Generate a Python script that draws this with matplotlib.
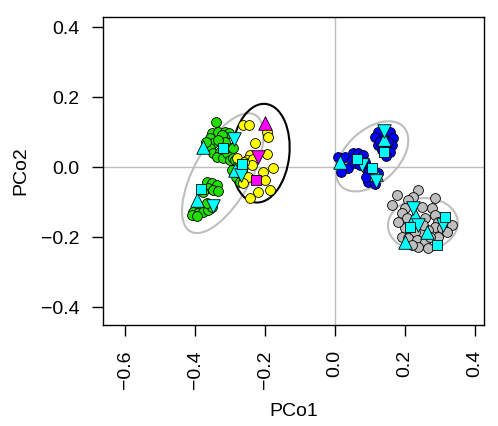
import matplotlib
matplotlib.use("Agg")
import matplotlib.pyplot as plt
from matplotlib.patches import Ellipse

plt.rcParams['font.family'] = ['Liberation Sans', 'DejaVu Sans']
plt.rcParams['font.size'] = 14

# site scores (PCo1, PCo2) by group
green_x = [-0.340, -0.351, -0.334, -0.314, -0.303, -0.323, -0.357, -0.349, -0.357, -0.349,
           -0.329, -0.337, -0.320, -0.309, -0.306, -0.314, -0.291, -0.300, -0.291, -0.334,
           -0.369, -0.286, -0.277, -0.294, -0.283, -0.271, -0.260, -0.266,
           -0.366, -0.351, -0.337, -0.363, -0.349, -0.377, -0.334, -0.391, -0.377, -0.406,
           -0.391, -0.377, -0.363, -0.351, -0.409, -0.394, -0.366]
green_y = [0.129, 0.097, 0.100, 0.100, 0.097, 0.091, 0.083, 0.069, 0.054, 0.040,
           0.043, 0.029, 0.026, 0.040, 0.057, 0.071, 0.054, 0.020, 0.026, 0.077,
           0.071, 0.020, 0.006, -0.009, -0.029, -0.043, -0.031, -0.009,
           -0.043, -0.046, -0.051, -0.060, -0.066, -0.071, -0.069, -0.109, -0.117, -0.129,
           -0.131, -0.129, -0.123, -0.114, -0.137, -0.140, -0.103]

yellow_x = [-0.263, -0.246, -0.194, -0.191, -0.229, -0.243, -0.251, -0.234, -0.194, -0.237,
            -0.280, -0.206, -0.177, -0.249, -0.263, -0.200, -0.186, -0.220, -0.243, -0.277, -0.260]
yellow_y = [0.120, 0.120, 0.100, 0.086, 0.069, 0.034, 0.020, 0.023, 0.037, 0.006,
            0.026, -0.014, -0.003, -0.029, -0.046, -0.037, -0.066, -0.071, -0.089, -0.014, 0.014]

blue_x = [0.123, 0.157, 0.114, 0.166, 0.123, 0.163, 0.134, 0.157, 0.146, 0.129, 0.151,
          0.009, 0.029, 0.023, 0.037, 0.017, 0.051, 0.066, 0.080, 0.049, 0.057, 0.086, 0.071,
          0.094, 0.106, 0.094, 0.114, 0.123, 0.089]
blue_y = [0.100, 0.100, 0.086, 0.083, 0.063, 0.063, 0.049, 0.043, 0.031, 0.074, 0.071,
          0.029, 0.029, -0.003, -0.003, -0.014, 0.040, 0.040, 0.034, 0.020, 0.011, 0.014, 0.006,
          -0.014, -0.031, -0.043, -0.049, -0.017, -0.029]

grey_x = [0.237, 0.223, 0.209, 0.286, 0.277, 0.249, 0.200, 0.191, 0.206, 0.257,
          0.286, 0.294, 0.314, 0.334, 0.286, 0.266, 0.249, 0.229, 0.200, 0.191,
          0.209, 0.234, 0.257, 0.237, 0.266, 0.220, 0.306, 0.320, 0.294, 0.271,
          0.251, 0.177, 0.163, 0.180]
grey_y = [-0.066, -0.086, -0.094, -0.089, -0.117, -0.114, -0.117, -0.131, -0.146, -0.146,
          -0.137, -0.157, -0.160, -0.166, -0.171, -0.180, -0.186, -0.186, -0.174, -0.200,
          -0.203, -0.209, -0.214, -0.229, -0.231, -0.223, -0.174, -0.186, -0.200, -0.200,
          -0.166, -0.080, -0.109, -0.157]

# overlay symbols
cyan_up_x = [-0.377, -0.286, -0.394, 0.140, 0.014, 0.117, 0.229, 0.263, 0.200]
cyan_up_y = [0.057, -0.009, -0.094, 0.080, 0.014, -0.020, -0.137, -0.186, -0.214]
cyan_dn_x = [-0.289, -0.269, -0.349, 0.140, 0.077, 0.117, 0.223, 0.237, 0.309]
cyan_dn_y = [0.080, -0.023, -0.111, 0.103, 0.006, -0.040, -0.117, -0.166, -0.166]
cyan_sq_x = [-0.320, -0.266, -0.383, 0.140, 0.063, 0.106, 0.214, 0.314, 0.291]
cyan_sq_y = [0.054, 0.009, -0.063, 0.043, 0.023, -0.003, -0.171, -0.143, -0.223]

mag_up = (-0.200, 0.126)
mag_dn = (-0.220, 0.029)
mag_sq = (-0.226, -0.037)

# group ellipses: centre x, centre y, width, height, angle, colour
ell_cx = [-0.321, -0.213, 0.106, 0.251]
ell_cy = [-0.017, 0.040, 0.031, -0.163]
ell_w = [0.381, 0.283, 0.246, 0.200]
ell_h = [0.162, 0.165, 0.150, 0.149]
ell_ang = [61, 84, 43, 5]
ell_col = ['#BEBEBE', 'black', '#BEBEBE', '#BEBEBE']

fig = plt.figure(figsize=(4.98, 4.26), dpi=100)
ax = fig.add_axes([0.207, 0.237, 0.765, 0.723])

ax.axhline(0, color='#BEBEBE', lw=1, zorder=1)
ax.axvline(0, color='#BEBEBE', lw=1, zorder=1)

for cx, cy, w, h, a, c in zip(ell_cx, ell_cy, ell_w, ell_h, ell_ang, ell_col):
    ax.add_patch(Ellipse((cx, cy), w, h, angle=a, fill=False, ec=c, lw=1.5, zorder=2))

kw = dict(edgecolors='black', linewidths=0.6, zorder=3)
ax.scatter(green_x, green_y, s=50, c='#22DD00', **kw)
ax.scatter(yellow_x, yellow_y, s=50, c='#FFFF00', **kw)
ax.scatter(blue_x, blue_y, s=50, c='#0000FF', **kw)
ax.scatter(grey_x, grey_y, s=50, c='#BEBEBE', **kw)

kw2 = dict(edgecolors='black', linewidths=0.6, zorder=4)
ax.scatter(cyan_up_x, cyan_up_y, s=95, marker='^', c='#00FFFF', **kw2)
ax.scatter(cyan_dn_x, cyan_dn_y, s=95, marker='v', c='#00FFFF', **kw2)
ax.scatter(cyan_sq_x, cyan_sq_y, s=60, marker='s', c='#00FFFF', **kw2)
ax.scatter([mag_up[0]], [mag_up[1]], s=95, marker='^', c='#FF00FF', **kw2)
ax.scatter([mag_dn[0]], [mag_dn[1]], s=95, marker='v', c='#FF00FF', **kw2)
ax.scatter([mag_sq[0]], [mag_sq[1]], s=60, marker='s', c='#FF00FF', **kw2)

ax.set_xlim(-0.663, 0.426)
ax.set_ylim(-0.451, 0.429)
ax.set_xticks([-0.6, -0.4, -0.2, 0.0, 0.2, 0.4])
ax.set_xticklabels(['\u22120.6', '\u22120.4', '\u22120.2', '0.0', '0.2', '0.4'], rotation=90)
ax.set_yticks([-0.4, -0.2, 0.0, 0.2, 0.4])
ax.set_yticklabels(['\u22120.4', '\u22120.2', '0.0', '0.2', '0.4'])
ax.tick_params(axis='x', direction='out', length=8, width=1, pad=10)
ax.tick_params(axis='y', direction='out', length=8, width=1, pad=9)
for sp in ax.spines.values():
    sp.set_linewidth(1)
ax.set_xlabel('PCo1', labelpad=10)
ax.set_ylabel('PCo2', labelpad=8)

fig.savefig('out.png', dpi=100)
